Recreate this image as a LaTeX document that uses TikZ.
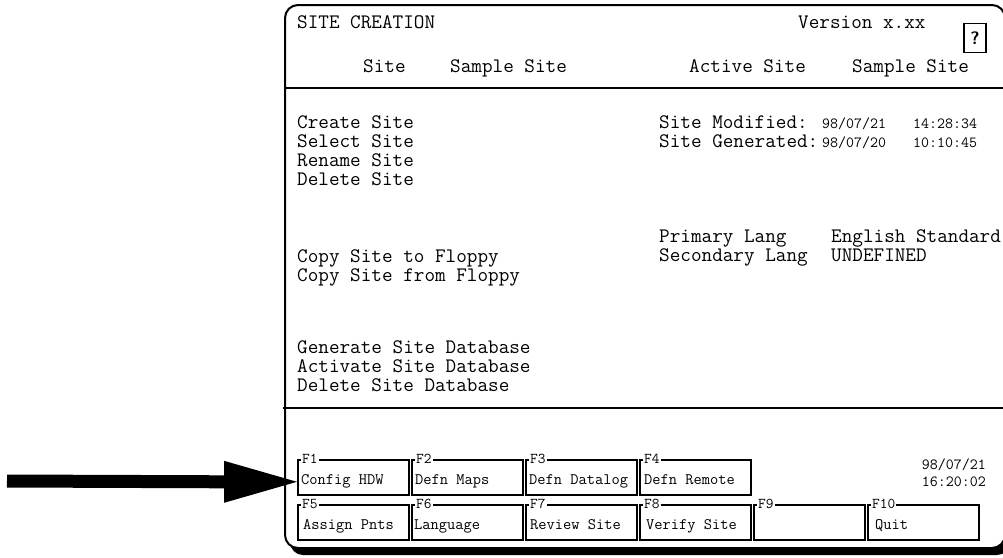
\documentclass[tikz,border=0pt]{standalone}
\usepackage{fontspec}
\begin{document}
\begin{tikzpicture}[x=1pt,y=-1pt,
  scr/.style={font=\ttfamily\fontsize{20.6}{24}\selectfont, anchor=base west, inner sep=0pt},
  small/.style={font=\ttfamily\fontsize{15.5}{18}\selectfont, anchor=base west, inner sep=0pt},
  keytext/.style={font=\ttfamily\fontsize{16}{19}\selectfont, anchor=base west, inner sep=0pt},
  keybox/.style={draw, line width=1.6pt, minimum width=111pt, minimum height=35pt, anchor=north west, inner sep=0pt},
  keylabel/.style={font=\ttfamily\fontsize{15}{17}\selectfont, fill=white, inner xsep=1pt, inner ysep=0pt, anchor=west},
  screen/.style={line width=2pt, rounded corners=13pt}]

\useasboundingbox (0,0) rectangle (1003,557);
\clip (0,0) rectangle (1003,557);

% screen outline with its drop shadow
\fill[rounded corners=13pt] (290,12) rectangle (1010,555);
\filldraw[fill=white, screen] (285,5) rectangle (1005,548);

% separators
\draw[line width=2pt] (285,88) -- (1005,88);
\draw[line width=2pt] (283,408) -- (1005,408);

% title bar
\node[scr] (title) at (297,28) {SITE CREATION};
\node[scr] (version) at (798,28) {Version x.xx};
\node[draw, line width=1.6pt, minimum width=22pt, minimum height=29pt, inner sep=0pt,
      font=\sffamily\bfseries\fontsize{18}{20}\selectfont] (help) at (975,38) {?};
\node[scr] (sitelbl) at (363,72) {Site};
\node[scr] (siteval) at (450,72) {Sample Site};
\node[scr] (actlbl) at (689,72) {Active Site};
\node[scr] (actval) at (852,72) {Sample Site};

% menu items
\node[scr] (m1) at (297,128.5) {Create Site};
\node[scr] (m2) at (297,147.5) {Select Site};
\node[scr] (m3) at (297,166.5) {Rename Site};
\node[scr] (m4) at (297,185.5) {Delete Site};
\node[scr] (m5) at (297,262.5) {Copy Site to Floppy};
\node[scr] (m6) at (297,281.5) {Copy Site from Floppy};
\node[scr] (m7) at (297,353.5) {Generate Site Database};
\node[scr] (m8) at (297,372.5) {Activate Site Database};
\node[scr] (m9) at (297,391.5) {Delete Site Database};

% site status
\node[scr] (modlbl) at (659,128.5) {Site Modified:};
\node[small] (moddate) at (822,128.5) {98/07/21};
\node[small] (modtime) at (913,128.5) {14:28:34};
\node[scr] (genlbl) at (659,147.5) {Site Generated:};
\node[small] (gendate) at (822,147.5) {98/07/20};
\node[small] (gentime) at (913,147.5) {10:10:45};
\node[scr] (plang) at (659,242.5) {Primary Lang};
\node[scr] (plangval) at (831,242.5) {English Standard};
\node[scr] (slang) at (659,261.5) {Secondary Lang};
\node[scr] (slangval) at (831,261.5) {UNDEFINED};

% function keys
\foreach \n/\x/\y/\t/\d in {1/297/459/Config HDW/4, 2/411/459/Defn Maps/4, 3/525/459/Defn Datalog/4,
    4/639/459/Defn Remote/5, 5/297/504/Assign Pnts/6, 6/411/504/Language/3, 7/525/504/Review Site/5,
    8/639/504/Verify Site/7, 9/753/504/{}/4, 10/867/504/Quit/8} {
  \node[keybox] (f\n) at (\x,\y) {};
  \node[keylabel] (fl\n) at ([xshift=4pt]f\n.north west) {F\n};
  \node[keytext] (ft\n) at ([xshift=\d pt,yshift=-25pt]f\n.north west) {\t};
}

% clock
\node[small, anchor=base east] (clkdate) at (986,469.5) {98/07/21};
\node[small, anchor=base east] (clktime) at (986,486) {16:20:02};

% pointer to F1
\coordinate (tail) at (7,481);
\fill ([yshift=-4.5pt]f1.west) -- ++(-73pt,21pt) -- ++(0,-42pt) -- cycle;
\draw[line width=13pt] (tail) -- ([xshift=-72pt,yshift=-4.5pt]f1.west);
\end{tikzpicture}
\end{document}
